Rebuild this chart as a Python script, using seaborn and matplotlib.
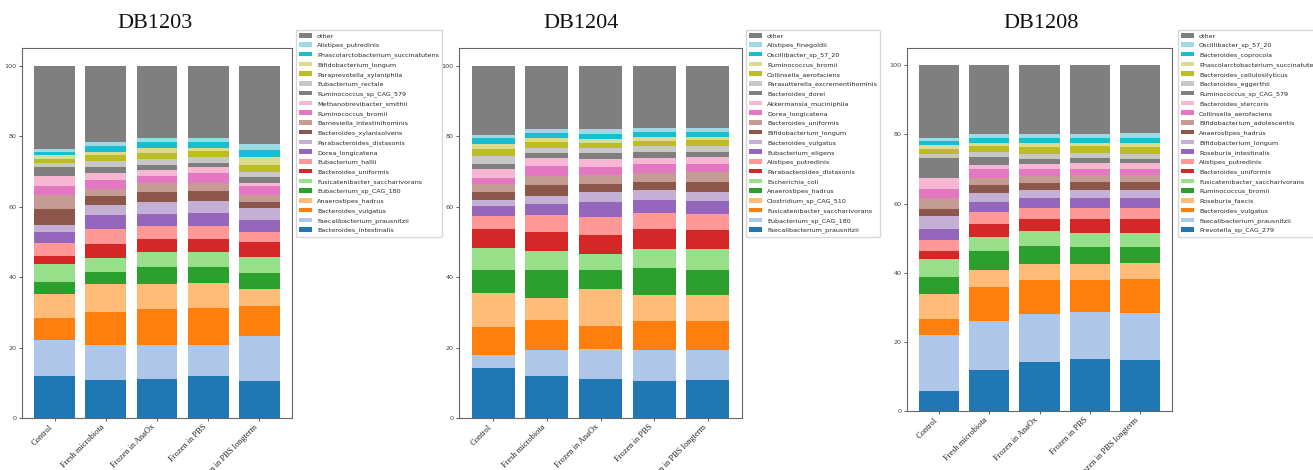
import matplotlib
matplotlib.use("Agg")
import matplotlib.pyplot as plt
import seaborn as sns
import pandas as pd

# ---------------- data ----------------
samples = ["Control", "Fresh microbiota", "Frozen in AnaOx", "Frozen in PBS",
           "Frozen in PBS longterm"]

# species listed bottom -> top of the stack, "other" last (top)
species_1203 = ["Bacteroides_intestinalis", "Faecalibacterium_prausnitzii",
                "Bacteroides_vulgatus", "Anaerostipes_hadrus", "Eubacterium_sp_CAG_180",
                "Fusicatenibacter_saccharivorans", "Bacteroides_uniformis",
                "Eubacterium_hallii", "Dorea_longicatena", "Parabacteroides_distasonis",
                "Bacteroides_xylanisolvens", "Barnesiella_intestinihominis",
                "Ruminococcus_bromii", "Methanobrevibacter_smithii",
                "Ruminococcus_sp_CAG_579", "Eubacterium_rectale",
                "Paraprevotella_xylaniphila", "Bifidobacterium_longum",
                "Phascolarctobacterium_succinatutens", "Alistipes_putredinis", "other"]
db1203_control = [11.8, 10.3, 6.3, 6.9, 3.3, 5.0, 2.3, 3.8, 3.1, 2.1, 4.3, 4.1, 2.4, 3.1,
                  2.3, 1.3, 1.2, 1.0, 0.9, 0.7, 23.8]
db1203_fresh = [10.9, 9.7, 9.5, 7.8, 3.4, 4.2, 3.9, 4.1, 4.0, 3.0, 2.4, 2.1, 2.6, 2.0,
                1.7, 1.5, 1.8, 1.0, 1.5, 1.1, 21.8]
db1203_anaox = [11.2, 9.4, 10.2, 7.1, 5.0, 4.1, 3.9, 3.6, 3.5, 3.4, 2.8, 2.4, 2.2, 1.6,
                1.4, 1.6, 1.9, 1.2, 1.7, 1.2, 20.6]
db1203_pbs = [11.9, 8.7, 10.5, 7.3, 4.5, 4.1, 3.9, 3.6, 3.7, 3.4, 2.8, 2.2, 2.8, 1.7,
              1.4, 1.5, 1.7, 1.0, 1.5, 1.2, 20.6]
db1203_longterm = [10.4, 12.8, 8.5, 5.0, 4.5, 4.5, 4.3, 2.8, 3.4, 3.3, 1.9, 2.0, 2.5, 0.9,
                   1.7, 1.4, 1.9, 2.2, 2.0, 1.7, 22.3]

species_1204 = ["Faecalibacterium_prausnitzii", "Eubacterium_sp_CAG_180",
                "Fusicatenibacter_saccharivorans", "Clostridium_sp_CAG_510",
                "Anaerostipes_hadrus", "Escherichia_coli", "Parabacteroides_distasonis",
                "Alistipes_putredinis", "Eubacterium_eligens", "Bacteroides_vulgatus",
                "Bifidobacterium_longum", "Bacteroides_uniformis", "Dorea_longicatena",
                "Akkermansia_muciniphila", "Bacteroides_dorei",
                "Parasutterella_excrementihominis", "Collinsella_aerofaciens",
                "Ruminococcus_bromii", "Oscillibacter_sp_57_20", "Alistipes_finegoldii",
                "other"]
db1204_control = [14.2, 3.8, 7.9, 9.6, 6.6, 6.1, 5.3, 3.7, 3.0, 1.6, 2.4, 2.1, 1.9, 2.6,
                  1.2, 2.4, 1.9, 1.4, 1.8, 0.8, 19.7]
db1204_fresh = [11.8, 7.6, 8.3, 6.4, 8.0, 5.4, 5.3, 4.8, 3.1, 2.4, 3.0, 2.7, 2.7, 2.2,
                1.6, 1.4, 1.7, 1.1, 1.5, 1.0, 18.0]
db1204_anaox = [11.2, 8.5, 6.3, 10.5, 5.5, 4.5, 5.4, 5.2, 4.3, 2.8, 2.1, 2.6, 2.4, 2.1,
                1.7, 1.4, 1.6, 1.1, 1.4, 1.4, 18.0]
db1204_pbs = [10.4, 8.8, 8.3, 7.5, 7.6, 5.5, 5.5, 4.7, 3.5, 2.9, 2.3, 2.4, 2.6, 1.9,
              1.7, 1.7, 1.3, 1.2, 1.5, 1.1, 17.6]
db1204_longterm = [10.7, 8.7, 8.1, 7.3, 7.3, 5.9, 5.3, 4.7, 3.6, 2.6, 2.8, 2.7, 2.3, 2.1,
                   1.5, 1.7, 1.6, 0.9, 1.5, 1.1, 17.6]

species_1208 = ["Prevotella_sp_CAG_279", "Faecalibacterium_prausnitzii",
                "Bacteroides_vulgatus", "Roseburia_faecis", "Ruminococcus_bromii",
                "Fusicatenibacter_saccharivorans", "Bacteroides_uniformis",
                "Alistipes_putredinis", "Roseburia_intestinalis", "Bifidobacterium_longum",
                "Anaerostipes_hadrus", "Bifidobacterium_adolescentis",
                "Collinsella_aerofaciens", "Bacteroides_stercoris",
                "Ruminococcus_sp_CAG_579", "Bacteroides_eggerthii",
                "Bacteroides_cellulosilyticus", "Phascolarctobacterium_succinatutens",
                "Bacteroides_coprocola", "Oscillibacter_sp_57_20", "other"]
db1208_control = [5.8, 16.3, 4.6, 7.1, 5.0, 5.3, 2.1, 3.2, 3.3, 3.6, 2.2, 3.1, 2.7, 3.1,
                  5.8, 1.2, 1.5, 1.1, 1.0, 1.0, 21.0]
db1208_fresh = [12.0, 14.0, 9.9, 5.0, 5.3, 4.1, 3.9, 3.4, 2.9, 2.6, 2.4, 1.9, 2.5, 1.4,
                2.2, 1.4, 1.8, 0.9, 1.5, 0.9, 20.0]
db1208_anaox = [14.2, 14.0, 9.6, 4.8, 5.1, 4.3, 3.6, 3.1, 2.9, 2.2, 2.2, 2.0, 2.1, 1.3,
                1.6, 1.4, 2.0, 1.1, 1.5, 1.0, 20.0]
db1208_pbs = [14.9, 13.7, 9.2, 4.8, 4.8, 4.2, 3.8, 3.3, 2.9, 2.2, 2.4, 2.0, 1.9, 1.5,
              1.6, 1.4, 2.0, 0.9, 1.5, 1.0, 20.0]
db1208_longterm = [14.7, 13.7, 9.9, 4.5, 4.6, 4.2, 3.8, 3.3, 2.9, 2.2, 2.4, 2.0, 1.9, 1.5,
                   1.4, 1.4, 2.0, 1.1, 1.6, 1.3, 19.6]

panels = [
    ("DB1203", species_1203, [db1203_control, db1203_fresh, db1203_anaox, db1203_pbs, db1203_longterm]),
    ("DB1204", species_1204, [db1204_control, db1204_fresh, db1204_anaox, db1204_pbs, db1204_longterm]),
    ("DB1208", species_1208, [db1208_control, db1208_fresh, db1208_anaox, db1208_pbs, db1208_longterm]),
]

# ---------------- style ----------------
sns.set_style("ticks", {"axes.edgecolor": "#555555", "xtick.color": "#444444",
                        "ytick.color": "#444444"})
plt.rcParams["font.family"] = ["DejaVu Sans"]

W, H = 1313, 470
fig = plt.figure(figsize=(W / 100, H / 100), dpi=100)

tab20 = sns.color_palette("tab20", 20)

# layout in pixels: (ax_left, ax_right, ax_top, ax_bottom, title_cx, legend_left, legend_top)
layout = [
    (22, 292, 48, 418, 155, 296, 30),
    (459, 742, 48, 418, 581, 746, 30),
    (907, 1172, 48, 411, 1041, 1178, 30),
]

for (title, species, values), (l, r, t, b, tcx, lx, ly) in zip(panels, layout):
    ax = fig.add_axes([l / W, 1 - b / H, (r - l) / W, (b - t) / H])
    rows = []
    for s, vals in zip(samples, values):
        for sp, v in zip(species, vals):
            rows.append({"sample": s, "species": sp, "value": v})
    df = pd.DataFrame(rows)
    df["sample"] = pd.Categorical(df["sample"], categories=samples, ordered=True)
    pal = {sp: tab20[i] for i, sp in enumerate(species[:-1])}
    pal["other"] = "#7f7f7f"
    sns.histplot(data=df, x="sample", hue="species", weights="value",
                 multiple="stack", hue_order=species[::-1], palette=pal,
                 discrete=True, shrink=0.8, alpha=1, linewidth=0, edgecolor="none",
                 ax=ax)
    ax.set_xlabel("")
    ax.set_ylabel("")
    ax.set_ylim(0, 105)
    ax.set_xlim(-0.64, 4.64)
    ax.set_yticks([0, 20, 40, 60, 80, 100])
    ax.tick_params(axis="y", labelsize=4.6, length=2.5, width=0.6, pad=1.5)
    ax.tick_params(axis="x", length=2.5, width=0.6, pad=1.0)
    ax.set_xticks(range(len(samples)))
    ax.set_xticklabels(samples, rotation=45, ha="right", fontsize=6.0,
                       fontfamily="Liberation Serif", color="#222222")
    for sp in ax.spines.values():
        sp.set_linewidth(0.8)
        sp.set_color("#666666")
    sns.move_legend(ax, "upper left", bbox_to_anchor=(lx / W, 1 - ly / H),
                    bbox_transform=fig.transFigure, title=None, fontsize=4.6,
                    frameon=True, borderaxespad=0, labelspacing=0.56,
                    handlelength=2.0, handletextpad=0.8, borderpad=0.5)
    fig.text(tcx / W, 1 - 28.5 / H, title, ha="center", va="baseline",
             fontsize=16, fontfamily="Liberation Serif", color="#111111")

fig.savefig("out.png", dpi=100)
